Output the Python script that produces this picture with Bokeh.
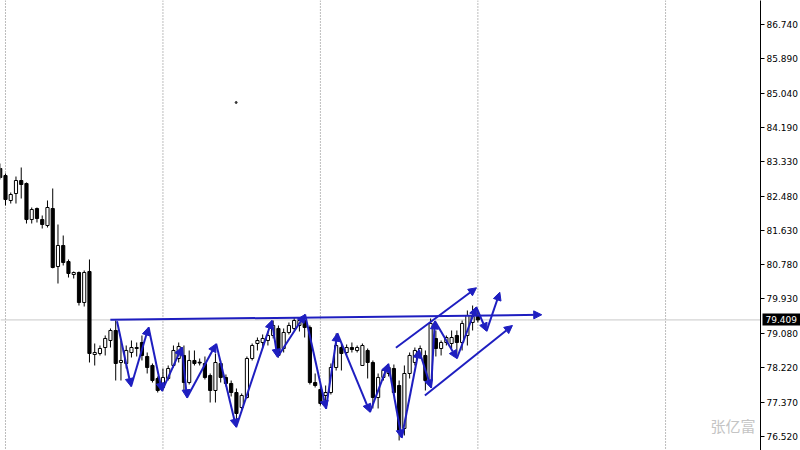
from bokeh.plotting import figure
from bokeh.models import (Range1d, FixedTicker, PrintfTickFormatter, Span, Label,
                          Arrow, NormalHead, ColumnDataSource, LinearAxis)
from bokeh.embed import file_html
from bokeh.resources import INLINE

# ---------------- data ----------------
opens = [83.167, 82.993, 82.373, 82.546, 82.869, 82.795, 81.901, 82.174, 81.901, 81.752,
         82.174, 80.735, 81.256, 80.859, 80.536, 80.586, 79.842, 80.611, 78.551, 78.576,
         78.725, 78.899, 79.147, 78.353, 78.328, 78.601, 78.700, 78.849, 78.502, 78.279,
         77.956, 77.733, 77.956, 78.279, 78.452, 78.527, 77.856, 78.403, 78.360, 78.328,
         78.030, 77.658, 78.328, 77.981, 77.832, 77.608, 77.236, 77.484, 78.452, 78.824,
         78.849, 78.899, 79.023, 79.197, 78.700, 79.098, 79.197, 79.271, 79.395, 79.222,
         77.856, 77.683, 77.534, 77.608, 78.229, 78.725, 78.601, 78.725, 78.651, 78.279,
         78.651, 78.353, 77.484, 77.981, 78.080, 78.204, 77.782, 76.716, 78.080, 78.353,
         78.527, 78.527, 77.906, 78.949, 78.700, 78.849, 78.824, 79.023, 78.849, 79.023,
         79.346, 79.495]
highs = [83.291, 83.043, 82.571, 82.968, 83.192, 82.820, 82.199, 82.199, 82.001, 82.373,
         82.671, 81.777, 81.504, 80.909, 80.611, 80.611, 80.636, 80.909, 78.824, 78.775,
         79.023, 79.197, 79.395, 78.899, 78.775, 78.899, 78.849, 79.023, 78.601, 78.328,
         78.006, 78.204, 78.279, 78.775, 78.849, 78.775, 78.651, 78.651, 78.452, 78.502,
         78.080, 78.576, 78.403, 78.055, 77.906, 77.708, 77.584, 78.502, 78.824, 78.973,
         79.048, 79.122, 79.395, 79.271, 79.197, 79.346, 79.470, 79.445, 79.544, 79.271,
         78.080, 77.782, 77.782, 78.328, 79.073, 78.824, 78.800, 78.849, 78.775, 78.824,
         78.700, 78.403, 78.080, 78.204, 78.303, 78.303, 77.906, 78.279, 78.601, 78.725,
         78.775, 78.651, 79.445, 79.147, 78.899, 79.023, 79.147, 79.147, 79.395, 79.643,
         79.767, 79.643]
lows = [82.894, 82.249, 82.298, 82.298, 82.422, 81.802, 81.802, 81.827, 81.678, 81.703,
        80.690, 80.313, 80.760, 80.462, 80.437, 79.767, 79.742, 78.353, 78.278, 78.527,
        78.527, 78.725, 77.906, 77.906, 78.204, 78.477, 78.502, 78.403, 78.080, 77.856,
        77.608, 77.658, 77.906, 78.229, 78.353, 77.658, 77.807, 78.279, 78.279, 77.931,
        77.360, 77.360, 77.856, 77.757, 77.509, 76.914, 77.162, 77.459, 78.403, 78.651,
        78.700, 78.775, 78.949, 78.477, 78.601, 79.048, 79.147, 79.122, 78.973, 77.807,
        77.733, 77.286, 77.236, 77.559, 78.154, 78.154, 78.527, 78.601, 78.601, 78.279,
        77.956, 77.212, 77.212, 77.906, 78.006, 77.534, 76.418, 76.542, 77.956, 78.279,
        78.452, 77.658, 77.782, 78.502, 78.527, 78.775, 78.700, 78.527, 78.651, 78.775,
        79.147, 79.346]
closes = [82.944, 82.397, 82.522, 82.869, 82.770, 81.901, 82.149, 81.926, 81.777, 82.199,
          80.710, 81.256, 80.834, 80.562, 80.586, 79.842, 80.586, 78.576, 78.601, 78.700,
          78.949, 79.147, 78.328, 78.403, 78.651, 78.725, 78.725, 78.527, 78.229, 77.906,
          77.658, 77.981, 78.204, 78.651, 78.750, 77.856, 78.403, 78.328, 78.340, 77.981,
          77.658, 78.353, 77.981, 77.832, 77.608, 77.087, 77.534, 78.452, 78.775, 78.899,
          78.949, 79.023, 79.271, 78.527, 79.098, 79.271, 79.395, 79.395, 79.222, 77.856,
          77.782, 77.336, 77.608, 78.229, 78.775, 78.576, 78.725, 78.675, 78.725, 78.775,
          78.353, 77.484, 77.981, 78.154, 78.229, 77.608, 76.666, 78.080, 78.527, 78.651,
          78.700, 77.906, 79.321, 78.700, 78.849, 78.973, 78.973, 78.849, 79.321, 79.519,
          79.495, 79.409]

tick_values = [76.52, 77.37, 78.22, 79.08, 79.93, 80.78, 81.63, 82.48, 83.33,
               84.19, 85.04, 85.89, 86.74]
separator_bars = [1, 31, 61, 91, 126.76]
current_price = 79.409

# hand-drawn annotations (bar index, price)
zigzag_bar = [22.25, 24.92, 28.26, 30.81, 34.62, 35.57, 41.14, 44.95, 51.74, 52.81,
              58.08, 62.07, 64.22, 70.44, 73.93, 76.48, 79.77, 82.09, 82.81, 87.00,
              90.69, 92.65, 95.18]
zigzag_price = [79.378, 77.757, 79.229, 77.641, 78.733, 77.477, 78.817, 76.747, 79.395, 78.484,
                79.544, 77.204, 79.080, 77.120, 78.321, 76.479, 78.668, 77.720, 79.383, 78.452,
                79.730, 79.130, 80.097]
neck_bar = [20.98, 103.17]
neck_price = [79.412, 79.537]
upper_bar = [75.39, 90.74]
upper_price = [78.718, 80.207]
lower_bar = [80.91, 97.59]
lower_price = [77.534, 79.271]
dot_bar = [44.95]
dot_price = [84.805]
watermark = "张亿富"
watermark_bar = 135.3
watermark_price = 76.78

X_START, X_END = 0.05, 144.85

# ---------------- figure ----------------
blue = "#1e1ec0"
p = figure(width=800, height=450, x_range=Range1d(X_START, X_END),
           y_range=Range1d(76.169, 87.336), output_backend="svg",
           toolbar_location=None, x_axis_location=None, y_axis_location="right",
           min_border=0)
p.grid.visible = False
p.outline_line_color = None
p.background_fill_color = "white"

ax = p.yaxis[0]
ax.ticker = FixedTicker(ticks=tick_values)
ax.formatter = PrintfTickFormatter(format="%.3f")
ax.major_label_text_font = "DejaVu Sans"
ax.major_label_text_font_size = "9px"
ax.major_label_text_color = "black"
ax.axis_line_color = "black"
ax.major_tick_out = 4
ax.major_tick_in = 0
ax.minor_tick_out = 0
ax.minor_tick_in = 0
ax.major_tick_line_color = "black"
ax.major_label_standoff = 2
ax.axis_label = None

# current price tag: second right axis whose single (thick) tick reaches back over the scale
pax = LinearAxis(ticker=FixedTicker(ticks=[current_price]),
                 formatter=PrintfTickFormatter(format="%.3f"),
                 axis_line_color=None, axis_label=None,
                 major_tick_out=0, major_tick_in=38, minor_tick_out=0, minor_tick_in=0,
                 major_tick_line_color="black", major_tick_line_width=12,
                 major_label_standoff=-35,
                 major_label_text_font="DejaVu Sans", major_label_text_font_size="9px",
                 major_label_text_color="white")
p.add_layout(pax, "right")

for b in separator_bars:
    p.add_layout(Span(location=b, dimension="height", line_color="#7a7a7a",
                      line_dash="1 2", line_width=1, level="underlay"))
p.add_layout(Span(location=current_price, dimension="width", line_color="#c8c8c8",
                  line_width=1, level="underlay"))

bars = list(range(len(opens)))
tops = [max(o, c) for o, c in zip(opens, closes)]
bottoms = [min(o, c) for o, c in zip(opens, closes)]
fills = ["white" if c >= o else "black" for o, c in zip(opens, closes)]
src = ColumnDataSource(dict(x=bars, high=highs, low=lows, top=tops, bottom=bottoms, fill=fills))
p.segment(x0="x", y0="high", x1="x", y1="low", source=src, line_color="black", line_width=1)
p.vbar(x="x", width=0.6, top="top", bottom="bottom", fill_color="fill",
       line_color="black", line_width=1, source=src)

p.scatter(dot_bar, dot_price, size=2, color="#333333")

def arrows(xs, ys):
    s = ColumnDataSource(dict(x0=xs[:-1], y0=ys[:-1], x1=xs[1:], y1=ys[1:]))
    p.add_layout(Arrow(end=NormalHead(size=8, fill_color=blue, line_color=blue, line_width=1),
                       x_start="x0", y_start="y0", x_end="x1", y_end="y1", source=s,
                       line_color=blue, line_width=2))

arrows(neck_bar, neck_price)
arrows(upper_bar, upper_price)
arrows(lower_bar, lower_price)
arrows(zigzag_bar, zigzag_price)

p.add_layout(Label(x=watermark_bar, y=watermark_price, text=watermark, text_color="#c4c4c4",
                   text_font="Noto Sans CJK SC", text_font_size="15px",
                   text_baseline="middle", text_align="left"))

open("out.html", "w").write(file_html(p, INLINE))
